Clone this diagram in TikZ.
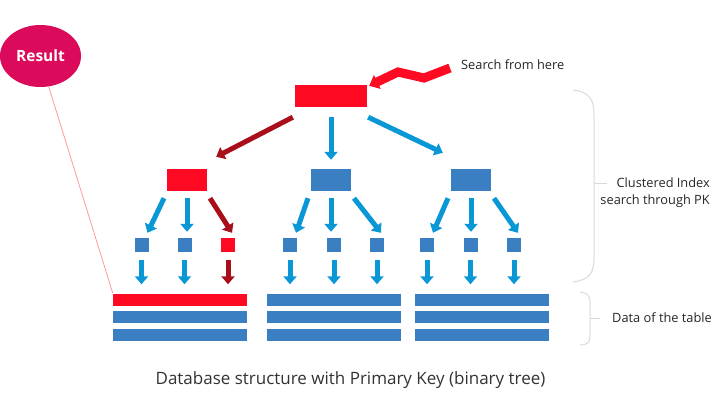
\documentclass[tikz,border=0pt]{standalone}
\usepackage{fontspec}
\setmainfont{Open Sans}
\usetikzlibrary{calc, shapes.geometric, arrows.meta, positioning}
\definecolor{dbred}{HTML}{FF0A23}
\definecolor{dbdark}{HTML}{A90F1B}
\definecolor{dbblue}{HTML}{3A7FC1}
\definecolor{dbarrow}{HTML}{0A97D6}
\definecolor{dbpink}{HTML}{DB0A5B}
\definecolor{dbgray}{HTML}{D9D9D9}
\tikzset{
  box/.style={inner sep=0pt, minimum width=40pt, minimum height=22pt},
  leaf/.style={inner sep=0pt, minimum size=14pt},
  row/.style={inner sep=0pt, minimum width=134pt, minimum height=12pt},
  fat/.style={line width=5pt, -{Triangle[width=13pt,length=8pt]}},
  note/.style={inner sep=0pt, font=\fontsize{12.8}{17}\selectfont, text=black!85},
  bracket/.style={dbgray, line width=1pt},
}

\begin{document}
\begin{tikzpicture}[x=1pt, y=-1pt]
  \useasboundingbox (0,0) rectangle (719,413);

  % Result bubble
  \node[ellipse, fill=dbpink, minimum width=81pt, minimum height=62pt, text=white,
        font=\fontsize{15.5}{18}\selectfont\bfseries] (result) at (40.5,56) {Result};

  % Index levels
  \node[box, fill=dbred, minimum width=72pt] (root) at (331,96) {};
  \node[box, fill=dbred] (ma) at (187,180) {};
  \node[box, fill=dbblue] (mb) at (331,180) {};
  \node[box, fill=dbblue] (mc) at (471,180) {};

  \foreach \n/\x/\c in {a1/141.5/dbblue, a2/184.5/dbblue, a3/228/dbred,
                        b1/290/dbblue, b2/334/dbblue, b3/377/dbblue,
                        c1/427/dbblue, c2/470.5/dbblue, c3/514/dbblue}
    \node[leaf, fill=\c] (\n) at (\x,245) {};

  % Table rows
  \foreach \g/\x/\c in {a/180/dbred, b/334/dbblue, c/481.5/dbblue} {
    \node[row, fill=\c] (row\g1) at (\x,299.5) {};
    \node[row, fill=dbblue] (row\g2) at (\x,317) {};
    \node[row, fill=dbblue] (row\g3) at (\x,334.5) {};
  }

  % Arrows
  \draw[fat, dbdark] ($(root.south west)+(-2,10)$) -- ($(ma.north east)+(9,-12)$);
  \draw[fat, dbarrow] ($(root.south)+(0,10)$) -- ($(mb.north)+(0,-9)$);
  \draw[fat, dbarrow] ($(root.south east)+(1,10)$) -- ($(mc.north west)+(-8,-16)$);

  \foreach \m/\l/\c in {ma/a/dbdark, mb/b/dbarrow, mc/c/dbarrow} {
    \draw[fat, dbarrow] ($(\m.south)+(-23,7)$) -- ($(\l1.north)+(6,-5)$);
    \draw[fat, dbarrow] ($(\m.south)+(0,7)$) -- ($(\m.south |- \l2.north)+(0,-6)$);
    \draw[fat, \c] ($(\m.south)+(23,7)$) -- ($(\l3.north)+(4,-5)$);
  }

  \foreach \l/\g/\c in {a1/a/dbarrow, a2/a/dbarrow, a3/a/dbdark,
                        b1/b/dbarrow, b2/b/dbarrow, b3/b/dbarrow,
                        c1/c/dbarrow, c2/c/dbarrow, c3/c/dbarrow}
    \draw[fat, \c] ($(\l.south)+(0,8)$) -- ($(\l.south |- row\g1.north)+(0,-9)$);

  % Search entry
  \node[note, anchor=west] (search) at (461,65) {Search from here};
  \draw[dbred, line width=9pt, -{Triangle[width=15pt,length=9pt]}]
    ($(search.west)+(-11,3)$) -- ++(-26,10) -- ++(-26,-6) -- ($(root.north east)+(2,1)$);

  % Result link
  \draw[red!40, line width=0.8pt] (result.-75) -- (rowa1.north west);

  % Brackets and labels
  \draw[bracket] (573,90) .. controls (590,92) and (594,100) .. (594,115) -- (594,258)
    .. controls (594,272) and (590,280) .. (573,282);
  \draw[bracket] (594,183) -- (607,183);
  \node[note, align=right, anchor=east] (cluster) at (710,192.5) {Clustered Index\\search through PK};

  \draw[bracket] (580,292) .. controls (588,293) and (590,296) .. (590,302) -- (590,335)
    .. controls (590,342) and (588,345) .. (580,345);
  \draw[bracket] (590,318) -- (600,318);
  \node[note, anchor=west] (tabledata) at (612,318) {Data of the table};

  \node[font=\fontsize{17}{20}\selectfont, text=black!80] (caption) at (350.5,380)
    {Database structure with Primary Key (binary tree)};
\end{tikzpicture}
\end{document}
